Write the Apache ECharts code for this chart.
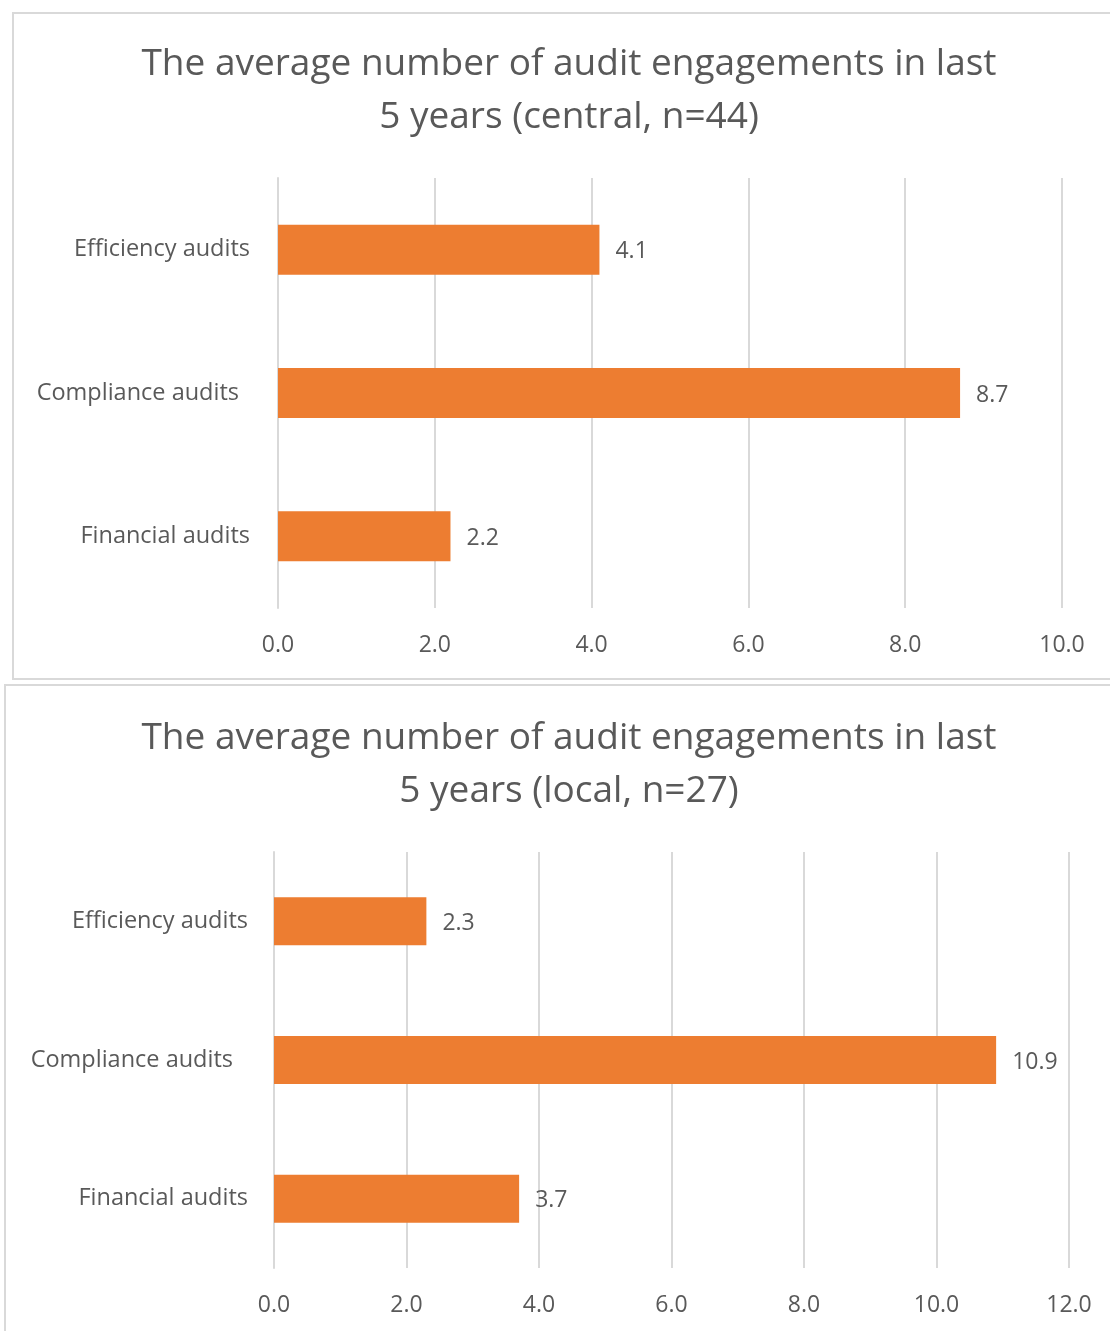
<!DOCTYPE html>
<html>
<head>
<meta charset="utf-8">
<script src="https://cdn.jsdelivr.net/npm/echarts@6/dist/echarts.min.js"></script>
<style>
  html, body { margin: 0; padding: 0; background: #fff; }
  #chart { width: 1110px; height: 1331px; }
</style>
</head>
<body>
<div id="chart"></div>
<script>
// Audit categories, listed bottom-to-top as drawn on the category axis
const categories = ['Financial audits', 'Compliance audits', 'Efficiency audits'];
// Average engagements, central institutions (n=44)
const centralValues = [2.2, 8.7, 4.1];
// Average engagements, local institutions (n=27)
const localValues = [3.7, 10.9, 2.3];

const titleCentral = 'The average number of audit engagements in last\n5 years (central, n=44)';
const titleLocal = 'The average number of audit engagements in last\n5 years (local, n=27)';

const FONT = 'Open Sans';
const TEXT = '#595959';
const GRID = '#d9d9d9';
const BAR = '#ed7d31';

function valueAxis(gridIndex, max) {
  return {
    type: 'value', gridIndex, min: 0, max, interval: 2,
    axisLine: { show: false }, axisTick: { show: false },
    splitLine: { lineStyle: { color: GRID, width: 2 } },
    axisLabel: { color: TEXT, fontFamily: FONT, fontSize: 23, margin: 26,
      formatter: v => v.toFixed(1) }
  };
}
// The middle label sits a little further from the axis
function categoryAxis(gridIndex, margin, middlePad) {
  return {
    type: 'category', gridIndex,
    data: categories.map((c, i) => i === 1
      ? { value: c, textStyle: { padding: [0, middlePad, 0, 0] } }
      : c),
    axisLine: { show: true, lineStyle: { color: GRID, width: 2 } },
    axisTick: { show: false },
    axisLabel: { color: TEXT, fontFamily: FONT, fontSize: 23.5, margin }
  };
}
function barSeries(idx, data, width) {
  return {
    type: 'bar', xAxisIndex: idx, yAxisIndex: idx, data, barWidth: width,
    itemStyle: { color: BAR },
    label: { show: true, position: 'right', distance: 16, offset: [0, 2], color: TEXT,
      fontFamily: FONT, fontSize: 23, formatter: p => p.value.toFixed(1) }
  };
}

const chart = echarts.init(document.getElementById('chart'));
chart.setOption({
  animation: false,
  backgroundColor: '#fff',
  title: [
    { text: titleCentral, left: 564, top: 33, textAlign: 'center',
      textStyle: { color: TEXT, fontFamily: FONT, fontSize: 37, fontWeight: 'normal', lineHeight: 53 } },
    { text: titleLocal, left: 564, top: 707, textAlign: 'center',
      textStyle: { color: TEXT, fontFamily: FONT, fontSize: 37, fontWeight: 'normal', lineHeight: 53 } }
  ],
  graphic: [
    { type: 'rect', shape: { x: 13, y: 13, width: 1120, height: 666 },
      style: { fill: 'none', stroke: GRID, lineWidth: 2 }, silent: true },
    { type: 'rect', shape: { x: 5, y: 685, width: 1130, height: 700 },
      style: { fill: 'none', stroke: GRID, lineWidth: 2 }, silent: true }
  ],
  grid: [
    { left: 278, top: 178, width: 784, height: 430 },
    { left: 274, top: 852, width: 795, height: 416 }
  ],
  xAxis: [valueAxis(0, 10), valueAxis(1, 12)],
  yAxis: [categoryAxis(0, 28, 11), categoryAxis(1, 26, 15)],
  series: [barSeries(0, centralValues, 50), barSeries(1, localValues, 48)]
});
</script>
</body>
</html>
